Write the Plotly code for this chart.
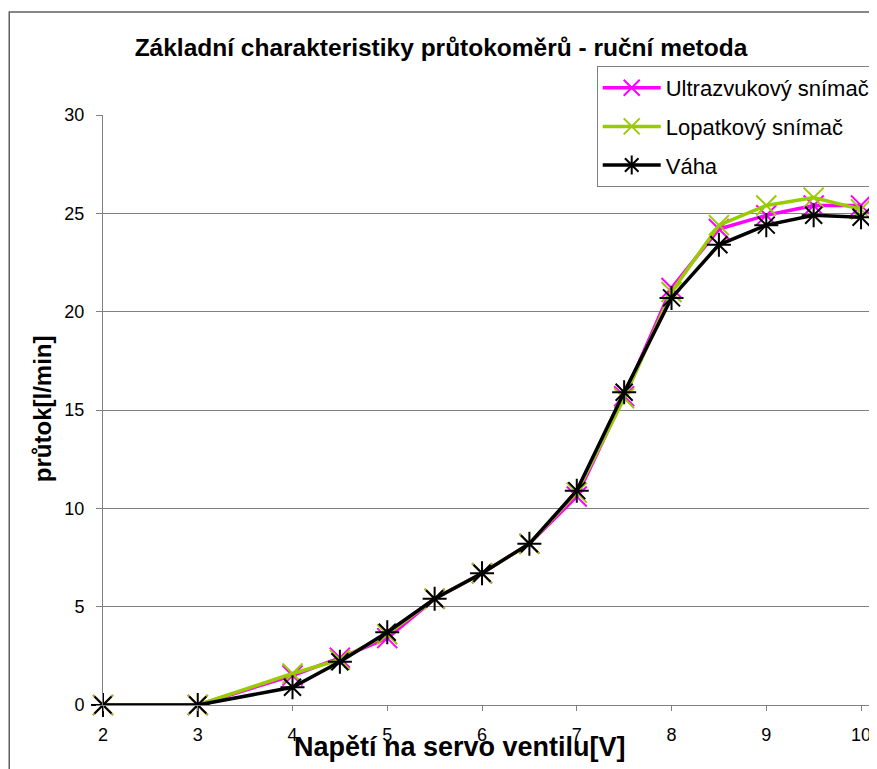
import plotly.graph_objs as go

# napeti na servo ventilu [V]
napeti = [2, 3, 4, 4.5, 5, 5.5, 6, 6.5, 7, 7.5, 8, 8.5, 9, 9.5, 10]

# prutok [l/min]
ultrazvukovy = [0, 0, 1.5, 2.4, 3.4, 5.4, 6.7, 8.2, 10.6, 15.7, 21.2, 24.2, 24.9, 25.4, 25.4]
lopatkovy = [0, 0, 1.6, 2.3, 3.6, 5.4, 6.7, 8.2, 10.8, 15.6, 21.0, 24.4, 25.4, 25.8, 25.2]
vaha = [0, 0, 0.9, 2.2, 3.7, 5.4, 6.7, 8.2, 10.9, 15.9, 20.7, 23.4, 24.4, 24.9, 24.8]

# stranka ma okraj 8 px, vse je posunute o OFF
OFF = 8
W, H = 877 - OFF, 769 - OFF
L = 103 - OFF
T = 115 - OFF
B = H - (705 - OFF)
R = W - (875 - OFF)
plot_w = W - L - R
plot_h = H - T - B

# 2 V je na 103 px, 10 V na 863 px
px_na_volt = (863 - 103) / 8
x_max = 2 + (875 - 103) / px_na_volt


def px_x(p):
    '''pixel v referenci -> paper (x)'''
    return (p - OFF - L) / plot_w


def px_y(p):
    '''pixel v referenci -> paper (y)'''
    return (H - B - (p - OFF)) / plot_h


serie = [
    ("Ultrazvukový snímač", ultrazvukovy, "#FF00FF", "x-thin-open"),
    ("Lopatkový snímač", lopatkovy, "#99CC00", "x-thin-open"),
    ("Váha", vaha, "#000000", "asterisk-open"),
]

fig = go.Figure()
for nazev, hodnoty, barva, symbol in serie:
    fig.add_trace(
        go.Scatter(
            x=napeti,
            y=hodnoty,
            name=nazev,
            legendgroup=nazev,
            mode="lines+markers",
            line=dict(color=barva, width=3.5),
            marker=dict(symbol=symbol, size=20, line=dict(color=barva, width=2)),
            cliponaxis=False,
        )
    )

fig.update_layout(
    width=W,
    height=H,
    margin=dict(l=L, r=R, t=T, b=B),
    paper_bgcolor="white",
    plot_bgcolor="white",
    font=dict(family="Liberation Sans, Arial", size=18, color="black"),
    title=dict(
        text="<b>Základní charakteristiky průtokoměrů - ruční metoda</b>",
        x=(441 - OFF) / W,
        xanchor="center",
        y=1 - (47 - OFF) / H,
        yanchor="middle",
        font=dict(size=24.5),
    ),
    legend=dict(
        x=px_x(598),
        y=px_y(66),
        xanchor="left",
        yanchor="top",
        bordercolor="#808080",
        borderwidth=1,
        bgcolor="white",
        font=dict(size=22),
        tracegroupgap=7,
        itemwidth=58,
    ),
    showlegend=True,
)

fig.update_xaxes(
    range=[2, x_max],
    tickmode="array",
    tickvals=list(range(2, 11)),
    showgrid=False,
    showline=True,
    linecolor="#808080",
    ticks="outside",
    ticklen=5,
    tickcolor="#808080",
    ticklabelstandoff=8,
    zeroline=False,
)
fig.update_yaxes(
    range=[0, 30],
    dtick=5,
    showgrid=True,
    gridcolor="#808080",
    gridwidth=1,
    showline=True,
    linecolor="#808080",
    ticks="outside",
    ticklen=6,
    tickcolor="#808080",
    ticklabelstandoff=8,
    zeroline=False,
)

# popisky os
fig.add_annotation(
    text="<b>Napětí na servo ventilu[V]</b>",
    xref="paper", yref="paper",
    x=px_x(461), y=px_y(747),
    xanchor="center", yanchor="middle",
    showarrow=False,
    font=dict(size=27),
)
fig.add_annotation(
    text="<b>průtok[l/min]</b>",
    xref="paper", yref="paper",
    x=px_x(42), y=px_y(409),
    xanchor="center", yanchor="middle",
    textangle=-90,
    showarrow=False,
    font=dict(size=24),
)

# ramecek grafu
fig.add_shape(
    type="rect",
    xref="paper", yref="paper",
    x0=px_x(OFF + 1), x1=px_x(876),
    y0=px_y(900), y1=px_y(12),
    line=dict(color="#606060", width=1.5),
    layer="below",
)

fig.write_html("out.html")
